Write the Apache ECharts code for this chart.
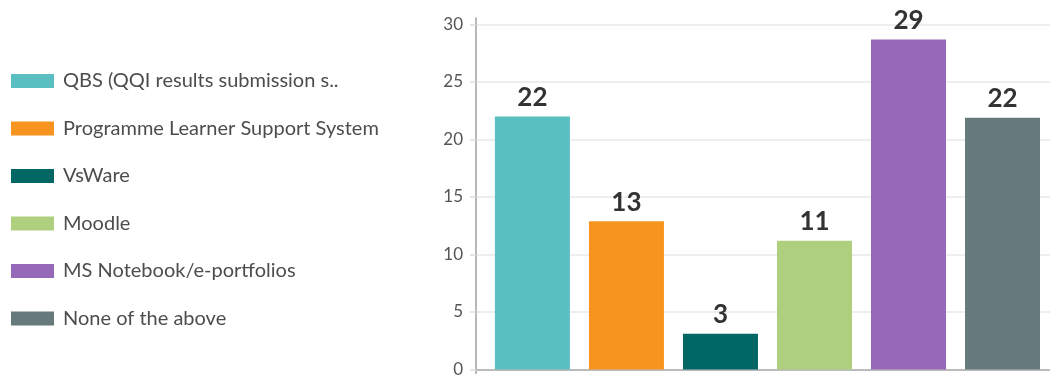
<!DOCTYPE html>
<html>
<head>
<meta charset="utf-8">
<script src="https://cdn.jsdelivr.net/npm/echarts@6/dist/echarts.min.js"></script>
<style>
html,body{margin:0;padding:0;background:#fff;}
#chart{width:1050px;height:378px;}
</style>
</head>
<body>
<div id="chart"></div>
<script>
const categories = [
  'QBS (QQI results submission s..',
  'Programme Learner Support System',
  'VsWare',
  'Moodle',
  'MS Notebook/e-portfolios',
  'None of the above'
];
const values = [22.0, 12.9, 3.1, 11.2, 28.7, 21.9];
const colors = ['#59bfc0', '#f7941f', '#006765', '#aecf7e', '#9568ba', '#66797b'];
const yTicks = [0, 5, 10, 15, 20, 25, 30];

const FONT = 'Lato, "Open Sans", sans-serif';

const series = categories.map((name, i) => ({
  type: 'bar',
  name: name,
  xAxisIndex: 0,
  yAxisIndex: 0,
  barWidth: 75,
  barGap: '-100%',
  data: [[i, values[i]]],
  itemStyle: { color: colors[i] },
  label: {
    show: true,
    position: 'top',
    distance: 6,
    fontFamily: FONT,
    fontWeight: 'bold',
    fontSize: 26,
    color: '#333333',
    formatter: p => String(Math.round(p.value[1]))
  }
}));

const chart = echarts.init(document.getElementById('chart'), null, { renderer: 'canvas' });
chart.setOption({
  animation: false,
  backgroundColor: '#ffffff',
  textStyle: { fontFamily: FONT },
  legend: {
    orient: 'vertical',
    left: 6,
    top: 66,
    padding: 5,
    icon: 'rect',
    itemWidth: 43,
    itemHeight: 14,
    itemGap: 27.5,
    textStyle: { fontFamily: FONT, fontSize: 20, color: '#4d4d4d', padding: [0, 0, 0, 4] },
    data: categories
  },
  grid: [
    { left: 476, right: 0, top: 24.5, bottom: 4.5, containLabel: false },
    { left: 476, right: 0, top: 18, bottom: 4.5, containLabel: false }
  ],
  xAxis: [
    {
      type: 'value', gridIndex: 0, min: -0.6, max: 5.505,
      axisLine: { show: true, onZero: false, lineStyle: { color: '#bbbbbb', width: 2 } },
      axisTick: { show: false }, axisLabel: { show: false }, splitLine: { show: false }
    },
    { type: 'value', gridIndex: 1, min: 0, max: 1, show: false }
  ],
  yAxis: [
    {
      type: 'value', gridIndex: 0, min: 0, max: 30, interval: 5,
      axisLine: { show: false, onZero: false },
      axisTick: { show: true, length: 6, lineStyle: { color: '#dddddd', width: 1.5 } },
      axisLabel: { fontFamily: FONT, fontSize: 17, color: '#555555', margin: 13,
        customValues: yTicks },
      splitLine: { show: true, lineStyle: { color: '#e8e8e8', width: 1.5 } }
    },
    {
      type: 'value', gridIndex: 1, min: 0, max: 1,
      axisLine: { show: true, onZero: false, lineStyle: { color: '#a0a0a0', width: 1.5 } },
      axisTick: { show: false }, axisLabel: { show: false }, splitLine: { show: false }
    }
  ],
  series: series
});
</script>
</body>
</html>
